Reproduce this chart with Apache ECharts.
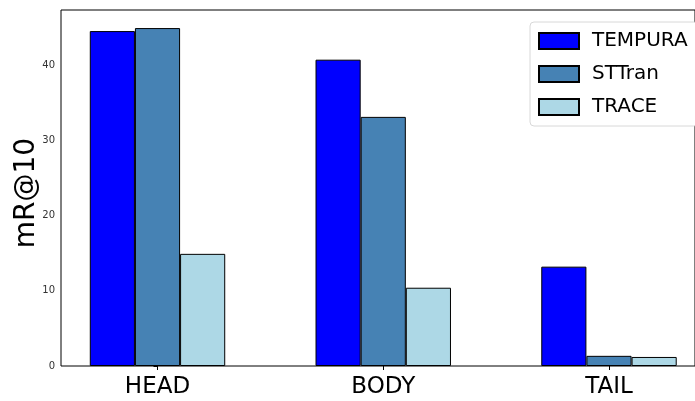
<!DOCTYPE html>
<html>
<head>
<meta charset="utf-8">
<script src="https://cdn.jsdelivr.net/npm/echarts@6/dist/echarts.min.js"></script>
<style>html,body{margin:0;padding:0;background:#fff}#c{width:695px;height:401px}</style>
</head>
<body>
<div id="c"></div>
<script>
var categories = ['HEAD', 'BODY', 'TAIL'];
var tempura = [44.5, 40.7, 13.2];
var sttran = [44.9, 33.1, 1.35];
var trace = [14.9, 10.4, 1.2];
var yTicks = [0, 10, 20, 30, 40];
var yMax = 47.3;

var chart = echarts.init(document.getElementById('c'), null, {renderer: 'canvas'});
var font = 'DejaVu Sans';
var catIdx = categories.map(function (c, i) { return i; });
function barSeries(name, data, color) {
  return {
    name: name, type: 'bar',
    data: data.map(function (v, i) { return [catIdx[i], v]; }),
    barWidth: '20%', barGap: '0%',
    itemStyle: {color: color, borderColor: '#000', borderWidth: 1},
    emphasis: {disabled: true}, animation: false
  };
}
chart.setOption({
  animation: false,
  textStyle: {fontFamily: font},
  grid: {left: 61, right: 0, top: 10, bottom: 35, outerBoundsMode: 'none', containLabel: false,
    show: true, borderColor: '#000', borderWidth: 1, backgroundColor: 'transparent'},
  legend: {
    orient: 'vertical', left: 530, top: 22,
    padding: [9, 10, 9, 8], itemGap: 13,
    itemWidth: 40, itemHeight: 16, icon: 'rect',
    backgroundColor: '#fff', borderColor: '#d8d8d8', borderWidth: 1, borderRadius: 4,
    textStyle: {fontFamily: font, fontSize: 20, color: '#000', padding: [0, 0, 0, 8]},
    data: ['TEMPURA', 'STTran', 'TRACE']
  },
  xAxis: {
    type: 'value', min: -0.4275, max: 2.381,
    axisLine: {show: false},
    splitLine: {show: false},
    axisTick: {show: true, length: 4, lineStyle: {color: '#000'}, customValues: catIdx},
    axisLabel: {fontFamily: font, fontSize: 23, color: '#000', margin: 10, customValues: catIdx,
      formatter: function (v) { return categories[Math.round(v)]; }}
  },
  yAxis: {
    type: 'value', min: 0, max: yMax, interval: 10,
    name: 'mR@10', nameLocation: 'middle', nameGap: 20, nameMoveOverlap: false,
    nameTextStyle: {fontFamily: font, fontSize: 28, color: '#000', padding: [0, 10, 0, 0]},
    axisLine: {show: false},
    axisTick: {show: true, length: 4, lineStyle: {color: '#000'}, customValues: yTicks},
    axisLabel: {fontFamily: font, fontSize: 10, color: '#333', margin: 6, customValues: yTicks},
    splitLine: {show: false}
  },
  series: [
    barSeries('TEMPURA', tempura, '#0000ff'),
    barSeries('STTran', sttran, '#4682b4'),
    barSeries('TRACE', trace, '#add8e6')
  ]
});
</script>
</body>
</html>
